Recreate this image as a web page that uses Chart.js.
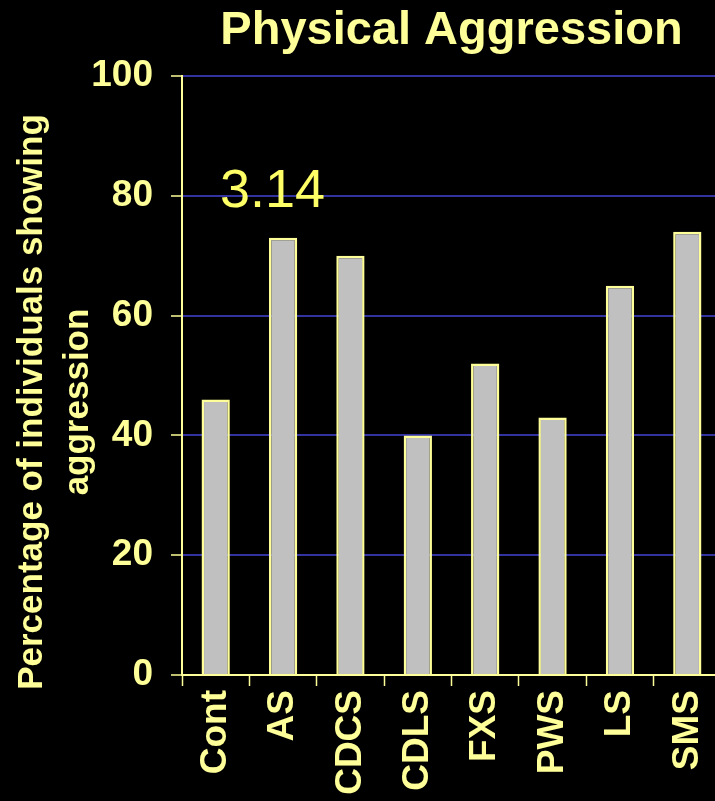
<!DOCTYPE html>
<html>
<head>
<meta charset="utf-8">
<title>Physical Aggression</title>
<script src="https://cdn.jsdelivr.net/npm/chart.js@4/dist/chart.umd.min.js"></script>
<style>
  html, body { margin: 0; padding: 0; background: #000; overflow: hidden; }
  #wrap { position: relative; width: 721px; height: 801px; }
</style>
</head>
<body>
<div id="wrap"><canvas id="chart"></canvas></div>
<script>
// Syndrome groups and the share of each group showing physical aggression (%)
const categories = ['Cont', 'AS', 'CDCS', 'CDLS', 'FXS', 'PWS', 'LS', 'SMS'];
const aggressionPct = [46, 73, 70, 40, 52, 43, 65, 74];
const yTicks = [0, 20, 40, 60, 80, 100];
const titleText = 'Physical Aggression';
const yTitleLines = ['Percentage of individuals showing', 'aggression'];
const noteText = '3.14';

const CREAM = '#FFFF99';
const NOTE = '#FFFF66';
const GRID = '#3333A0';
const FONT = '"Liberation Sans", Arial, sans-serif';

// Draws the rotated two-line axis caption and the free-floating note
const textLayer = {
  id: 'textLayer',
  afterDraw(chart) {
    const { ctx, chartArea, scales } = chart;
    ctx.save();
    ctx.fillStyle = CREAM;
    ctx.font = 'bold 35px ' + FONT;
    ctx.textAlign = 'center';
    ctx.textBaseline = 'middle';
    const cy = chartArea.bottom - 273;
    yTitleLines.forEach((line, i) => {
      ctx.save();
      ctx.translate(32 + i * 46, cy);
      ctx.rotate(-Math.PI / 2);
      ctx.fillText(line, 0, 0);
      ctx.restore();
    });
    ctx.fillStyle = NOTE;
    ctx.font = '54px ' + FONT;
    ctx.textAlign = 'left';
    ctx.textBaseline = 'alphabetic';
    ctx.fillText(noteText, chartArea.left + 38, scales.y.getPixelForValue(80) + 11);
    ctx.restore();
  }
};

new Chart(document.getElementById('chart'), {
  type: 'bar',
  data: {
    labels: categories,
    datasets: [{
      data: aggressionPct,
      backgroundColor: '#C0C0C0',
      borderColor: CREAM,
      borderWidth: 2.5,
      borderSkipped: 'bottom',
      barPercentage: 0.42,
      categoryPercentage: 1
    }]
  },
  options: {
    responsive: true,
    maintainAspectRatio: false,
    animation: false,
    layout: { padding: 0 },
    plugins: {
      legend: { display: false },
      tooltip: { enabled: false },
      title: {
        display: true,
        text: titleText,
        color: CREAM,
        fullSize: false,
        font: { family: FONT, size: 47, weight: 'bold', lineHeight: 1.2 },
        padding: { top: 3, bottom: 16.6 }
      }
    },
    scales: {
      x: {
        offset: true,
        grid: {
          offset: true,
          drawOnChartArea: false,
          drawTicks: true,
          tickLength: 11,
          tickColor: CREAM,
          tickWidth: 1.5,
          color: CREAM
        },
        border: { display: true, color: CREAM, width: 2 },
        ticks: {
          color: CREAM,
          font: { family: FONT, size: 37, weight: 'bold' },
          minRotation: 90,
          maxRotation: 90,
          padding: 4,
          autoSkip: false
        },
        afterFit(scale) {
          scale.height = 126;
          scale.paddingLeft = 0;
          scale.paddingRight = 0;
        }
      },
      y: {
        min: 0,
        max: 100,
        afterBuildTicks(scale) {
          scale.ticks = yTicks.map(v => ({ value: v }));
        },
        grid: {
          color: c => (c.tick && c.tick.value === 0) ? 'rgba(0,0,0,0)' : GRID,
          lineWidth: 2,
          drawTicks: true,
          tickLength: 11,
          tickColor: CREAM,
          tickWidth: 1.5
        },
        border: { display: true, color: CREAM, width: 2 },
        ticks: {
          color: CREAM,
          font: { family: FONT, size: 37, weight: 'bold' },
          padding: 18
        },
        afterFit(scale) {
          scale.width = 182;
        }
      }
    }
  },
  plugins: [textLayer]
});
</script>
</body>
</html>
